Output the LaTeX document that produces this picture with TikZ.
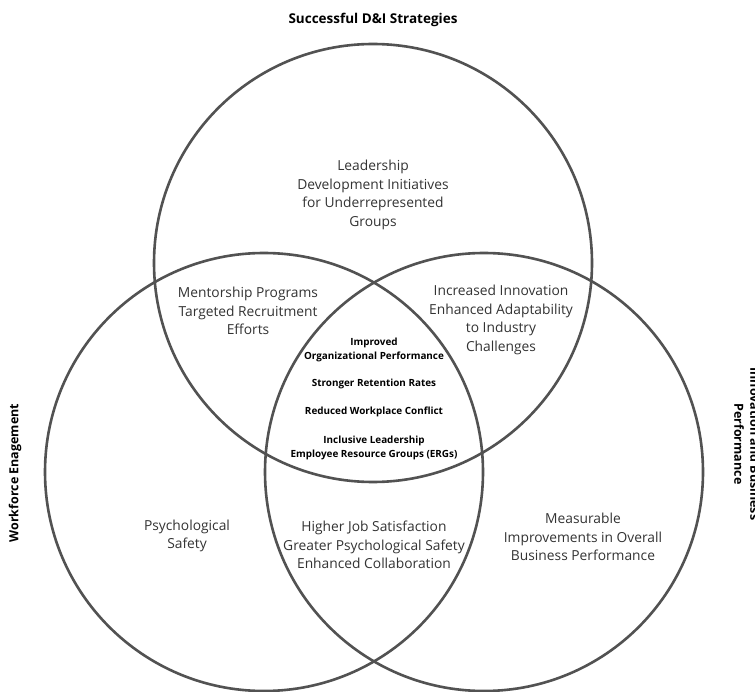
\documentclass[tikz,border=0pt]{standalone}
\usepackage{fontspec}
\setmainfont{Open Sans}
\definecolor{ring}{HTML}{525252}
\definecolor{txt}{HTML}{333333}
\begin{document}
\begin{tikzpicture}[x=1pt,y=-1pt,
  ringline/.style={draw=ring,line width=2.6pt},
  body/.style={align=center,text=txt,inner sep=0pt,font=\fontsize{13.8}{18.4}\selectfont},
  core/.style={align=center,text=black,inner sep=0pt,font=\fontsize{9.9}{14}\selectfont\bfseries},
  head/.style={align=center,text=black,inner sep=0pt,font=\fontsize{13.5}{16}\selectfont\bfseries},
  side/.style={align=center,text=black,inner sep=0pt,font=\fontsize{12.5}{16}\selectfont\bfseries}]
\useasboundingbox (0,0) rectangle (755,692);
\fill[white] (0,0) rectangle (755,692);
\coordinate (ctop) at (373,263);
\coordinate (cleft) at (264,472);
\coordinate (cright) at (484,472);
\draw[ringline] (ctop) circle[radius=219];
\draw[ringline] (cleft) circle[radius=219];
\draw[ringline] (cright) circle[radius=219];

\node[head] (title) at (373,20) {Successful D\&I Strategies};
\node[side,rotate=90] (wf) at (15,473) {Workforce Enagement};
\node[side,rotate=-90] (inb) at (747,444) {Innovation and Business\\Performance};

\node[body] (lead) at (373,195) {Leadership\\Development Initiatives\\for Underrepresented\\Groups};
\node[body] (ment) at (248,311) {Mentorship Programs\\Targeted Recruitment\\Efforts};
\node[body] (innov) at (501,320) {Increased Innovation\\Enhanced Adaptability\\to Industry\\Challenges};
\node[body] (psych) at (187,536) {Psychological\\Safety};
\node[body] (job) at (374,545) {Higher Job Satisfaction\\Greater Psychological Safety\\Enhanced Collaboration};
\node[body] (meas) at (583,537) {Measurable\\Improvements in Overall\\Business Performance};

\node[core] (c1) at (374,350) {Improved\\Organizational Performance};
\node[core] (c2) at (374,384) {Stronger Retention Rates};
\node[core] (c3) at (374,412) {Reduced Workplace Conflict};
\node[core] (c4) at (374,448) {Inclusive Leadership\\Employee Resource Groups (ERGs)};
\end{tikzpicture}
\end{document}
